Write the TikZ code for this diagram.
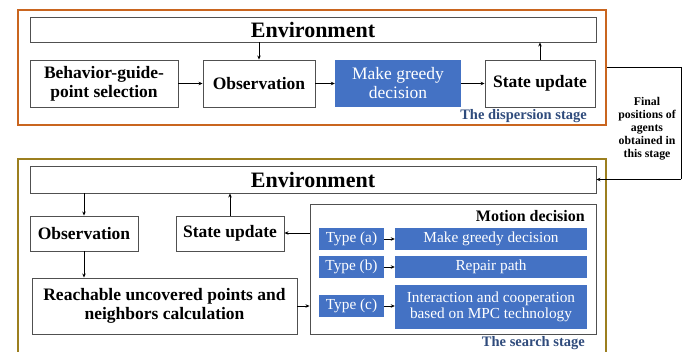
\documentclass[tikz,border=0pt]{standalone}
\usepackage{fontspec}
\setmainfont{Liberation Serif}
\usetikzlibrary{arrows.meta}
\definecolor{blueF}{HTML}{4472C4}
\definecolor{orangeB}{HTML}{C9651F}
\definecolor{oliveB}{HTML}{9C7F1F}
\definecolor{stageT}{HTML}{2F4B7C}
\definecolor{boxB}{HTML}{505050}
\tikzset{
  box/.style={draw=boxB, line width=0.9pt, inner sep=0pt, align=center, font=\fontsize{17.5}{19}\selectfont\bfseries},
  bluebox/.style={fill=blueF, inner sep=0pt, align=center, text=white, font=\fontsize{17.5}{19}\selectfont},
  smallblue/.style={fill=blueF, inner sep=0pt, align=center, text=white, font=\fontsize{15.3}{16}\selectfont},
  envbox/.style={draw=boxB, line width=0.9pt, inner sep=0pt, font=\fontsize{22}{24}\selectfont\bfseries},
  stagelbl/.style={text=stageT, font=\fontsize{14.5}{16}\selectfont\bfseries, inner sep=0pt, anchor=east},
  arr/.style={line width=0.8pt, -{Stealth[length=4pt,width=3.5pt]}},
  conn/.style={line width=0.8pt}
}
\begin{document}
\begin{tikzpicture}[x=1pt,y=-1pt]
\useasboundingbox (0,0) rectangle (693,352);
% stage frames
\node[draw=orangeB, line width=2pt, minimum width=588pt, minimum height=115pt, inner sep=0pt] (stage1) at (312,67.5) {};
\draw[draw=oliveB, line width=2pt] (18,360) -- (18,159) -- (606,159) -- (606,360);
% top stage
\node[envbox, minimum width=566pt, minimum height=25pt] (env1) at (313,29.5) {Environment};
\node[box, minimum width=148pt, minimum height=47pt] (beh) at (104,83.5) {Behavior-guide-\\point selection};
\node[box, minimum width=112pt, minimum height=47pt] (obs1) at (259,83.5) {Observation};
\node[bluebox, minimum width=126pt, minimum height=47pt] (gr1) at (398,83.5) {Make greedy\\decision};
\node[box, minimum width=110pt, minimum height=47pt] (su1) at (540,83.5) {State update};
\node[stagelbl] (lbl1) at (587,116.5) {The dispersion stage};
\draw[arr] (beh.east) -- (obs1.west);
\draw[arr] (obs1.east) -- (gr1.west);
\draw[arr] (gr1.east) -- (su1.west);
\draw[arr] (env1.south -| obs1.north) -- (obs1.north);
\draw[arr] (su1.north) -- (su1.north |- env1.south);
% side connector
\coordinate (c1) at (stage1.east |- 0,67);
\coordinate (c2) at (681,67);
\coordinate (c3) at (681,179.5);
\node[inner sep=0pt, align=center, font=\fontsize{11.8}{13}\selectfont\bfseries] (side) at (647,129) {Final\\positions of\\agents\\obtained in\\this stage};
% bottom stage
\node[envbox, minimum width=566pt, minimum height=27pt] (env2) at (313,179.5) {Environment};
\draw[conn] (c1) -- (c2) -- (c3);
\draw[arr] (c3) -- (env2.east);
\node[box, minimum width=108pt, minimum height=35pt] (obs2) at (84,233.5) {Observation};
\node[box, minimum width=108pt, minimum height=35pt] (su2) at (230,233.5) {State update};
\node[box, minimum width=265pt, minimum height=56pt] (reach) at (164.5,306) {Reachable uncovered points and\\neighbors calculation};
\node[draw=boxB, line width=0.9pt, minimum width=286pt, minimum height=130pt, inner sep=0pt] (motion) at (453,269) {};
\node[inner sep=0pt, anchor=east, font=\fontsize{16}{18}\selectfont\bfseries] (mlbl) at (585,216) {Motion decision};
\node[smallblue, minimum width=65pt, minimum height=22pt] (ta) at (351.5,239) {Type (a)};
\node[smallblue, minimum width=192pt, minimum height=22pt] (ga) at (491,239) {Make greedy decision};
\node[smallblue, minimum width=65pt, minimum height=22pt] (tb) at (351.5,267) {Type (b)};
\node[smallblue, minimum width=192pt, minimum height=22pt] (gb) at (491,267) {Repair path};
\node[smallblue, minimum width=65pt, minimum height=22pt] (tc) at (351.5,306) {Type (c)};
\node[smallblue, minimum width=192pt, minimum height=44pt] (gc) at (491,307) {Interaction and cooperation\\based on MPC technology};
\node[stagelbl] (lbl2) at (585,343) {The search stage};
\draw[arr] (ta.east) -- (ga.west);
\draw[arr] (tb.east) -- (gb.west);
\draw[arr] (tc.east) -- (gc.west |- tc.east);
\draw[arr] (env2.south -| obs2.north) -- (obs2.north);
\draw[arr] (obs2.south) -- (obs2.south |- reach.north);
\draw[arr] (su2.north) -- (su2.north |- env2.south);
\draw[arr] (motion.west |- 0,233) -- (su2.east |- 0,233);
\draw[arr] (reach.east) -- (reach.east -| motion.west);
\end{tikzpicture}
\end{document}
